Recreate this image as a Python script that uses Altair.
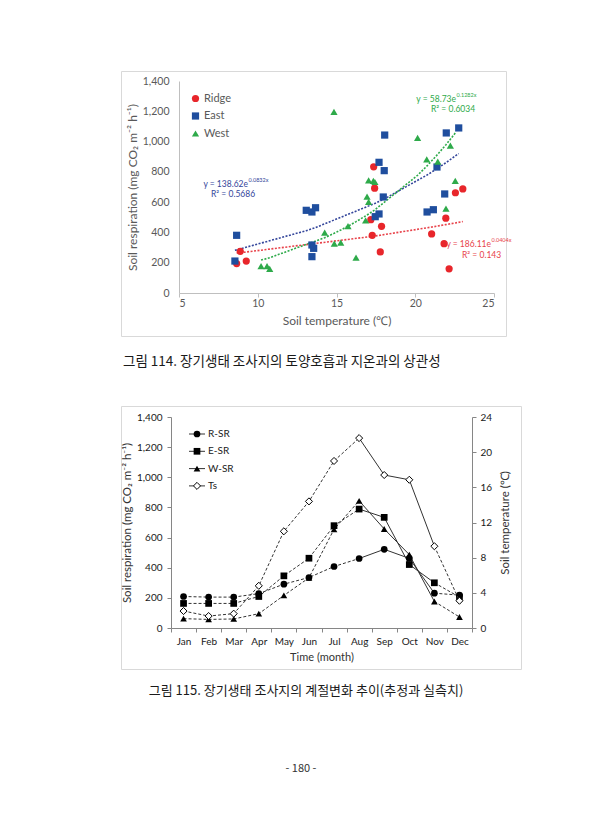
import altair as alt
import pandas as pd

FONT = "Lato"
KFONT = "Noto Sans CJK KR"

# ---------------- Figure 114: soil respiration vs soil temperature ----------------
sites = ["Ridge", "East", "West"]
site_colors = ["#E8262B", "#1F4E9E", "#2EAA4A"]
trend_colors = ["#E8424A", "#34469B", "#2EAA4A"]
site_shapes = ["circle", "square", "triangle-up"]

ridge_temp = [8.66, 8.89, 9.27, 17.18, 17.27, 17.36, 17.42, 17.78, 17.86, 21.04, 21.83, 21.94, 22.15, 22.55, 23.02]
ridge_resp = [194, 275, 211, 484, 381, 833, 692, 271, 440, 390, 326, 494, 160, 662, 687]
east_temp = [8.55, 8.66, 13.08, 13.44, 13.67, 13.44, 13.55, 13.44, 17.46, 17.70, 17.70, 18.06,
             18.03, 17.97, 20.75, 21.15, 21.38, 21.87, 21.97, 22.76]
east_resp = [211, 381, 546, 535, 563, 317, 295, 240, 504, 522, 863, 1043,
             808, 634, 535, 550, 832, 654, 1057, 1090]
west_temp = [10.21, 10.59, 10.76, 14.25, 14.84, 14.86, 15.27, 15.73, 16.24, 16.85, 16.94, 17.04,
             17.04, 17.34, 17.44, 20.15, 20.73, 21.43, 21.95, 22.23, 22.54]
west_resp = [178, 178, 160, 398, 1196, 326, 332, 442, 233, 480, 636, 601,
             744, 740, 733, 1024, 883, 867, 557, 973, 740]

# exponential trend lines as labelled on the chart: y = a * e^(b x)
trend_a = [186.11, 138.62, 58.73]
trend_b = [0.0404, 0.0832, 0.1282]
trend_r2 = ["0.143", "0.5686", "0.6034"]

rows = []
for s, a, b, tt, rr in zip(sites, trend_a, trend_b,
                           [ridge_temp, east_temp, west_temp],
                           [ridge_resp, east_resp, west_resp]):
    for t, r in zip(tt, rr):
        rows.append({"site": s, "temp": t, "resp": r, "a": a, "b": b})
df1 = pd.DataFrame(rows)

W1, H1 = 385, 265
x1 = alt.X("temp:Q",
           scale=alt.Scale(domain=[5, 25], range=[58, 373], nice=False, zero=False),
           axis=alt.Axis(values=[5, 10, 15, 20, 25], grid=False, offset=-43,
                         domainColor="#bfbfbf", tickColor="#bfbfbf", tickSize=4,
                         labelColor="#595959", labelFont=FONT, labelFontSize=10.5, labelPadding=1,
                         title="Soil temperature (℃)", titleColor="#595959", titleFont=FONT,
                         titleFontSize=12, titleFontWeight="normal", titlePadding=7))
yaxis1 = alt.Axis(values=list(range(0, 1401, 200)), format=",.0f", grid=False, offset=-58,
                  domainColor="#bfbfbf", ticks=False, tickSize=0,
                  labelColor="#595959", labelFont=FONT, labelFontSize=10.5, labelPadding=10,
                  title="Soil respiration (mg CO₂ m⁻² h⁻¹)", titleColor="#595959", titleFont=FONT,
                  titleFontSize=12, titleFontWeight="normal", titlePadding=3)
yscale1 = alt.Scale(domain=[0, 1400], range=[222, 10], nice=False)

legend1 = alt.Legend(orient="none", legendX=69, legendY=22, title=None,
                     labelFont=FONT, labelFontSize=11, labelColor="#595959", labelOffset=3,
                     rowPadding=5.5, padding=0, symbolSize=52)

base1 = alt.Chart(df1)
trends = []
for s, c in zip(sites, trend_colors):
    trends.append(base1.transform_filter(alt.datum.site == s).transform_calculate(
        fit="datum.a * exp(datum.b * datum.temp)"
    ).mark_line(strokeDash=[2, 1.5], strokeWidth=1.6, color=c).encode(
        x=x1,
        y=alt.Y("fit:Q", scale=yscale1, axis=yaxis1),
    ))
pts = base1.mark_point(filled=True, opacity=1, size=52).encode(
    x=x1,
    y=alt.Y("resp:Q", scale=yscale1, axis=yaxis1),
    color=alt.Color("site:N", scale=alt.Scale(domain=sites, range=site_colors), legend=legend1),
    shape=alt.Shape("site:N", scale=alt.Scale(domain=sites, range=site_shapes), legend=legend1),
)

one = pd.DataFrame({"k": [0]})


def note(x, y, text, size, color, font=FONT, align="left"):
    return alt.Chart(one).mark_text(align=align, baseline="middle", fontSize=size,
                                    color=color, font=font).encode(
        x=alt.value(x), y=alt.value(y), text=alt.value(text))


eq_pos = {  # exponent start (x, y) with main text ending there, R² (x, y)
    "Ridge": ((370, 172), (341, 184)),
    "East": ((127, 112), (90, 123)),
    "West": ((335, 27), (310, 38)),
}
notes1 = []
for s, a, b, r2, c in zip(sites, trend_a, trend_b, trend_r2, trend_colors):
    (ex, ey), (rx, ry) = eq_pos[s]
    notes1.append(note(ex, ey + 1, f"y = {a}e", 8.5, c, align="right"))
    notes1.append(note(ex + 0.5, ey - 3, f"{b}x", 5.5, c))
    notes1.append(note(rx, ry, f"R² = {r2}", 8.5, c))

caption1 = note(2, 291, "그림 114. 장기생태 조사지의 토양호흡과 지온과의 상관성", 13.5, "#1a1a1a", font=KFONT)

chart1 = alt.layer(*trends, pts, *notes1, caption1).properties(width=W1, height=H1)

# ---------------- Figure 115: seasonal trend ----------------
months = ["Jan", "Feb", "Mar", "Apr", "May", "Jun", "Jul", "Aug", "Sep", "Oct", "Nov", "Dec"]
sr_names = ["R-SR", "E-SR", "W-SR"]
sr_shapes = ["circle", "square", "triangle-up"]
r_sr = [209, 205, 205, 228, 291, 335, 408, 461, 522, 462, 231, 218]
e_sr = [163, 163, 163, 209, 346, 463, 679, 789, 734, 421, 300, 205]
w_sr = [62, 57, 60, 95, 216, 333, 655, 844, 657, 487, 176, 73]
ts = [1.93, 1.36, 1.63, 4.8, 11.0, 14.4, 19.0, 21.6, 17.4, 16.86, 9.3, 3.1]

# estimated (dashed) and measured (solid) month ranges
parts = [("a", "dash", range(0, 8)), ("b", "solid", range(7, 11)), ("c", "dash", range(10, 12))]


def seg_rows(name, vals):
    out = []
    for pid, style, idx in parts:
        for i in idx:
            out.append({"series": name, "month": months[i], "value": vals[i],
                        "seg": name + pid, "style": style})
    return out


sr_lines = pd.DataFrame(sum([seg_rows(n, v) for n, v in zip(sr_names, [r_sr, e_sr, w_sr])], []))
ts_lines = pd.DataFrame(seg_rows("Ts", ts))
ts_pts = pd.DataFrame({"month": months, "value": ts})

W2, H2 = 400, 263
AX2 = "#868686"
x2 = alt.X("month:N", sort=months, bandPosition=0.5,
           scale=alt.Scale(type="band", domain=months, range=[50, 351], paddingInner=0, paddingOuter=0),
           axis=alt.Axis(tickBand="extent", grid=False, offset=-41, labelAngle=0,
                         domainColor=AX2, tickColor=AX2, tickSize=4,
                         labelColor="#1a1a1a", labelFont=FONT, labelFontSize=10, labelPadding=4,
                         title="Time (month)", titleColor="#333333", titleFont=FONT,
                         titleFontSize=11, titleFontWeight="normal", titlePadding=5))
yl = alt.Y("value:Q", scale=alt.Scale(domain=[0, 1400], range=[222, 11], nice=False),
           axis=alt.Axis(values=list(range(0, 1401, 200)), format=",.0f", grid=False, offset=-50,
                         domainColor=AX2, tickColor=AX2, tickSize=4,
                         labelColor="#1a1a1a", labelFont=FONT, labelFontSize=10, labelPadding=5,
                         title="Soil respiration (mg CO₂ m⁻² h⁻¹)", titleColor="#333333", titleFont=FONT,
                         titleFontSize=11.5, titleFontWeight="normal", titlePadding=4))
yr = alt.Y("value:Q", scale=alt.Scale(domain=[0, 24], range=[222, 11], nice=False),
           axis=alt.Axis(orient="right", values=list(range(0, 25, 4)), grid=False, offset=-49,
                         domainColor=AX2, tickColor=AX2, tickSize=4,
                         labelColor="#1a1a1a", labelFont=FONT, labelFontSize=10, labelPadding=4,
                         title="Soil temperature (℃)", titleColor="#333333", titleFont=FONT,
                         titleFontSize=11.5, titleFontWeight="normal", titlePadding=8,
                         titleAngle=270, titleBaseline="top"))

LINE = "#333333"
sr_dash = alt.Chart(sr_lines[sr_lines["style"] == "dash"]).mark_line(
    color=LINE, strokeWidth=1, strokeDash=[3, 2]).encode(x=x2, y=yl, detail="seg:N")
sr_solid = alt.Chart(sr_lines[sr_lines["style"] == "solid"]).mark_line(
    color=LINE, strokeWidth=1).encode(x=x2, y=yl, detail="seg:N")
sr_marks = []
for n, shp, vals in zip(sr_names, sr_shapes, [r_sr, e_sr, w_sr]):
    d = pd.DataFrame({"month": months, "value": vals})
    sr_marks.append(alt.Chart(d).mark_point(shape=shp, filled=True, color="black", opacity=1,
                                            size=45).encode(x=x2, y=yl))
left = alt.layer(sr_dash, sr_solid, *sr_marks)

ts_dash = alt.Chart(ts_lines[ts_lines["style"] == "dash"]).mark_line(
    color=LINE, strokeWidth=1, strokeDash=[3, 2]).encode(x=x2, y=yr, detail="seg:N")
ts_solid = alt.Chart(ts_lines[ts_lines["style"] == "solid"]).mark_line(
    color=LINE, strokeWidth=1).encode(x=x2, y=yr, detail="seg:N")
ts_mark = alt.Chart(ts_pts).mark_point(shape="diamond", filled=True, fill="white", stroke="black",
                                       strokeWidth=1, opacity=1, size=50).encode(x=x2, y=yr)
right = alt.layer(ts_dash, ts_solid, ts_mark)

# legend (line + marker + label)
legend_names = sr_names + ["Ts"]
legend_shapes = sr_shapes + ["diamond"]
leg = []
for i, (n, shp) in enumerate(zip(legend_names, legend_shapes)):
    yy = 28 + 17.3 * i
    leg.append(alt.Chart(one).mark_rule(color=LINE, strokeWidth=1).encode(
        x=alt.value(68), x2=alt.value(84), y=alt.value(yy)))
    if n == "Ts":
        leg.append(alt.Chart(one).mark_point(shape=shp, filled=True, fill="white", stroke="black",
                                             strokeWidth=1, opacity=1, size=50).encode(
            x=alt.value(76), y=alt.value(yy)))
    else:
        leg.append(alt.Chart(one).mark_point(shape=shp, filled=True, color="black", opacity=1,
                                             size=45).encode(x=alt.value(76), y=alt.value(yy)))
    leg.append(note(87, yy, n, 10, "#1a1a1a"))

caption2 = note(185, 285, "그림 115. 장기생태 조사지의 계절변화 추이(추정과 실측치)", 13, "#1a1a1a",
                font=KFONT, align="center")
pageno = note(180, 363, "- 180 -", 11, "#333333", font=KFONT, align="center")

chart2 = alt.layer(left, right).resolve_scale(y="independent")
chart2 = alt.layer(chart2, *leg, caption2, pageno).properties(width=W2, height=H2)

chart = alt.vconcat(chart1, chart2, spacing=70, bounds="flush").properties(
    padding={"left": 112, "top": 62, "right": 4, "bottom": 4},
    background="white",
).configure_view(stroke="#d9d9d9", strokeWidth=1)

chart.save("out.html", embed_options={"renderer": "svg", "actions": False})
